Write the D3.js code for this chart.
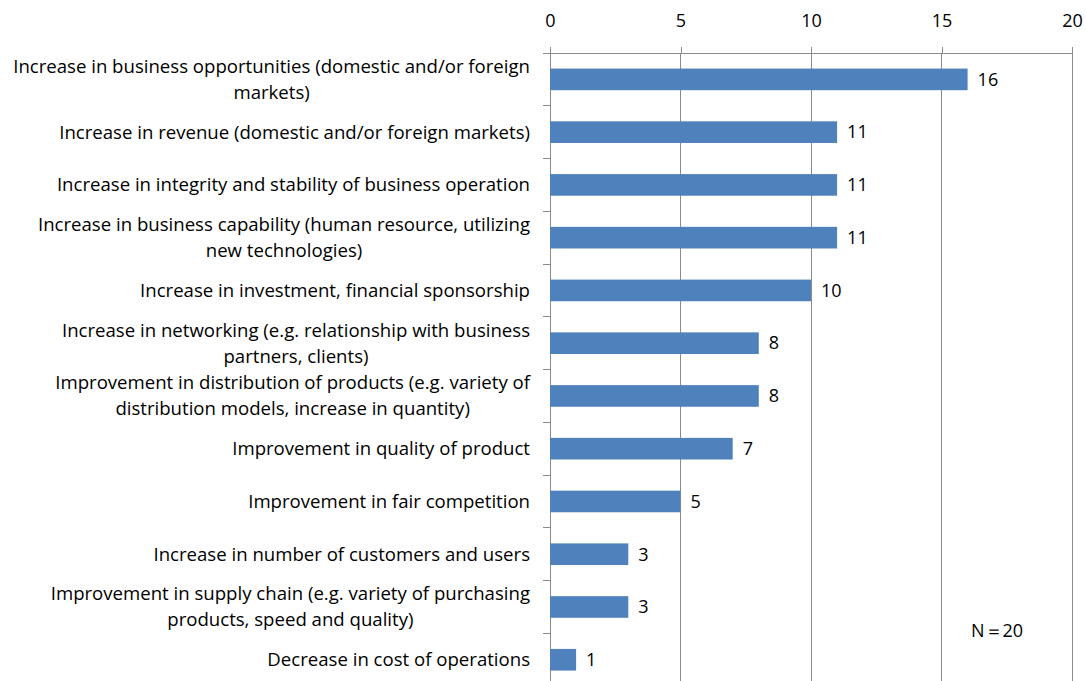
<!DOCTYPE html>
<html>
<head>
<meta charset="utf-8">
<script src="https://cdn.jsdelivr.net/npm/d3@7"></script>
<style>
  html, body { margin: 0; padding: 0; background: #fff; }
  svg { display: block; }
  text { font-family: "Open Sans", "Noto Sans", sans-serif; fill: #000; }
</style>
</head>
<body>
<svg id="chart" width="1086" height="681"></svg>
<script>
// Benefits reported by respondents (N = 20)
const categories = [
  ["Increase in business opportunities (domestic and/or foreign", "markets)"],
  ["Increase in revenue (domestic and/or foreign markets)"],
  ["Increase in integrity and stability of business operation"],
  ["Increase in business capability (human resource, utilizing", "new technologies)"],
  ["Increase in investment, financial sponsorship"],
  ["Increase in networking (e.g. relationship with business", "partners, clients)"],
  ["Improvement in distribution of products (e.g. variety of", "distribution models, increase in quantity)"],
  ["Improvement in quality of product"],
  ["Improvement in fair competition"],
  ["Increase in number of customers and users"],
  ["Improvement in supply chain (e.g. variety of purchasing", "products, speed and quality)"],
  ["Decrease in cost of operations"]
];
const counts = [16, 11, 11, 11, 10, 8, 8, 7, 5, 3, 3, 1];
const xTicks = [0, 5, 10, 15, 20];
const noteText = "N\uFF1D20";

const svg = d3.select("#chart");
const gridColor = "#8a8a8a";
const barColor = "#4F81BD";
const labelSize = 18.6;
const fontSize = 18;
const fontFamily = "'Open Sans', 'Noto Sans', sans-serif";

const plot = { left: 550, right: 1072, top: 53, step: 52.76 };
const keys = categories.map((c, i) => i);

const x = d3.scaleLinear().domain([0, 20]).range([plot.left, plot.right]);
const y = d3.scaleBand()
  .domain(keys)
  .range([plot.top, plot.top + plot.step * keys.length])
  .paddingInner(0.59)
  .paddingOuter(0.295);

// vertical gridlines
svg.append("g").selectAll("line")
  .data(xTicks.slice(1))
  .join("line")
  .attr("x1", d => x(d)).attr("x2", d => x(d))
  .attr("y1", plot.top).attr("y2", 681)
  .attr("stroke", gridColor).attr("stroke-width", 1)
  .attr("shape-rendering", "crispEdges");

// top value axis
const xAxis = svg.append("g")
  .attr("transform", `translate(0,${plot.top})`)
  .call(d3.axisTop(x).tickValues(xTicks).tickSize(6).tickPadding(20).tickFormat(d3.format("d")));
xAxis.select(".domain").attr("stroke", gridColor).attr("shape-rendering", "crispEdges");
xAxis.selectAll(".tick line").attr("stroke", gridColor).attr("shape-rendering", "crispEdges");
xAxis.selectAll(".tick text").attr("font-size", fontSize).attr("font-family", fontFamily).attr("fill", "#000");

// category axis line and boundary ticks
svg.append("line")
  .attr("x1", x(0)).attr("x2", x(0))
  .attr("y1", plot.top - 6).attr("y2", 681)
  .attr("stroke", gridColor).attr("shape-rendering", "crispEdges");
const bounds = d3.range(keys.length + 1).map(i => plot.top + i * y.step());
svg.append("g").selectAll("line")
  .data(bounds)
  .join("line")
  .attr("x1", x(0) - 7).attr("x2", x(0))
  .attr("y1", d => d).attr("y2", d => d)
  .attr("stroke", gridColor).attr("shape-rendering", "crispEdges");

// bars
svg.append("g").selectAll("rect")
  .data(keys)
  .join("rect")
  .attr("x", x(0))
  .attr("y", i => y(i))
  .attr("width", i => x(counts[i]) - x(0))
  .attr("height", y.bandwidth())
  .attr("fill", barColor);

// value labels
svg.append("g").selectAll("text")
  .data(keys)
  .join("text")
  .attr("x", i => x(counts[i]) + 10)
  .attr("y", i => y(i) + y.bandwidth() / 2)
  .attr("dy", "0.35em")
  .attr("font-size", fontSize)
  .text(i => counts[i]);

// category labels: block right-aligned, lines centred within the block
const labelRight = 530;
const lineGap = 26;
const labels = svg.append("g");
keys.forEach(i => {
  const lines = categories[i];
  const cy = y(i) + y.bandwidth() / 2;
  const g = labels.append("g");
  const texts = lines.map((t, k) => g.append("text")
    .attr("font-size", labelSize)
    .attr("text-anchor", "middle")
    .attr("y", cy + (k - (lines.length - 1) / 2) * lineGap)
    .attr("dy", "0.35em")
    .text(t));
  const w = d3.max(texts, t => t.node().getComputedTextLength());
  texts.forEach(t => t.attr("x", labelRight - w / 2));
});

// sample size note
svg.append("text")
  .attr("x", 971)
  .attr("y", 631)
  .attr("dy", "0.35em")
  .attr("font-size", 18)
  .text(noteText);
</script>
</body>
</html>
